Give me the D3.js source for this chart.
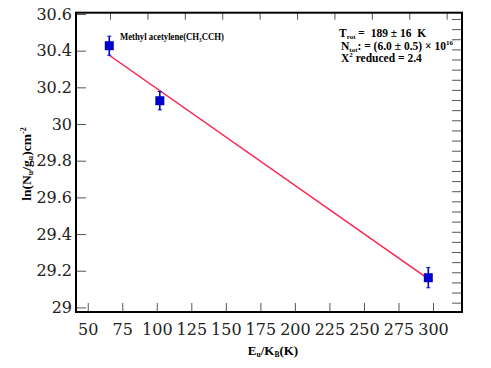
<!DOCTYPE html>
<html>
<head>
<meta charset="utf-8">
<script src="https://cdn.jsdelivr.net/npm/d3@7"></script>
<style>
  body { margin: 0; background: #fff; }
  svg text { font-family: "DejaVu Serif", serif; }
  .lbl { font-family: "Liberation Serif", serif; font-weight: bold; }
</style>
</head>
<body>
<div id="chart"></div>
<script>
// data
const energies = [65.6, 102.2, 296.6];          // Eu/kB (K)
const lnValues = [30.427, 30.127, 29.162];      // ln(Nu/gu)
const errors = [0.052, 0.05, 0.055];
const fitX = [65.6, 296.6];
const fitY = [30.375, 29.155];
const xTicks = [50, 75, 100, 125, 150, 175, 200, 225, 250, 275, 300];
const yTicks = [29, 29.2, 29.4, 29.6, 29.8, 30, 30.2, 30.4, 30.6];
const topTicks = d3.range(1, 11);
const rightTicks = d3.range(1, 30);

const width = 491, height = 368;
const frame = { left: 76, right: 462, top: 12.7, bottom: 312 };

const svg = d3.select('#chart').append('svg')
  .attr('width', width)
  .attr('height', height);

const x = d3.scaleLinear().domain([41.5, 321]).range([frame.left, frame.right]);
const y = d3.scaleLinear().domain([28.975, 30.607]).range([frame.bottom, frame.top]);
const xTop = d3.scaleLinear().domain([0.091, 10.41]).range([frame.left, frame.right]);
const yRight = d3.scaleLinear().domain([0.08, 29.62]).range([frame.bottom, frame.top]);

// bottom axis, ticks pointing inward
const axBottom = svg.append('g')
  .attr('transform', `translate(0,${frame.bottom})`)
  .call(d3.axisBottom(x).tickValues(xTicks).tickSize(-9).tickPadding(12).tickFormat(d3.format('d')));
axBottom.selectAll('line').attr('stroke', '#555');
axBottom.selectAll('text').attr('font-size', 16).attr('fill', '#222');

const axLeft = svg.append('g')
  .attr('transform', `translate(${frame.left},0)`)
  .call(d3.axisLeft(y).tickValues(yTicks).tickSize(-10).tickPadding(4).tickFormat(d => String(+d.toFixed(1))));
axLeft.selectAll('line').attr('stroke', '#555');
axLeft.selectAll('text').attr('font-size', 16).attr('fill', '#222');

const axTop = svg.append('g')
  .attr('transform', `translate(0,${frame.top})`)
  .call(d3.axisTop(xTop).tickValues(topTicks).tickSize(-7).tickFormat(''));
axTop.selectAll('line').attr('stroke', '#555');

const axRight = svg.append('g')
  .attr('transform', `translate(${frame.right},0)`)
  .call(d3.axisRight(yRight).tickValues(rightTicks).tickSize(-10).tickFormat(''));
axRight.selectAll('line').attr('stroke', '#555');

svg.selectAll('.domain').remove();

// frame
svg.append('rect')
  .attr('x', frame.left).attr('y', frame.top)
  .attr('width', frame.right - frame.left)
  .attr('height', frame.bottom - frame.top)
  .attr('fill', 'none')
  .attr('stroke', '#000')
  .attr('stroke-width', 2);

// fit line
svg.append('path')
  .datum(d3.zip(fitX, fitY))
  .attr('fill', 'none')
  .attr('stroke', '#ff1f4f')
  .attr('stroke-width', 1.5)
  .attr('d', d3.line().x(d => x(d[0])).y(d => y(d[1])));

// points with error bars
const pts = energies.map((e, i) => ({ e, v: lnValues[i], err: errors[i] }));
const pg = svg.append('g').selectAll('g').data(pts).enter().append('g');

pg.append('line')
  .attr('x1', d => x(d.e)).attr('x2', d => x(d.e))
  .attr('y1', d => y(d.v + d.err)).attr('y2', d => y(d.v - d.err))
  .attr('stroke', '#0000cc').attr('stroke-width', 1.6);
pg.append('line')
  .attr('x1', d => x(d.e) - 2).attr('x2', d => x(d.e) + 2)
  .attr('y1', d => y(d.v + d.err)).attr('y2', d => y(d.v + d.err))
  .attr('stroke', '#0000cc').attr('stroke-width', 1);
pg.append('line')
  .attr('x1', d => x(d.e) - 2).attr('x2', d => x(d.e) + 2)
  .attr('y1', d => y(d.v - d.err)).attr('y2', d => y(d.v - d.err))
  .attr('stroke', '#0000cc').attr('stroke-width', 1);
pg.append('rect')
  .attr('x', d => x(d.e) - 4.5).attr('y', d => y(d.v) - 4.5)
  .attr('width', 9).attr('height', 9)
  .attr('fill', '#0000cc');

// annotations
const mol = svg.append('text').attr('class', 'lbl')
  .attr('x', 120).attr('y', 40).attr('font-size', 10)
  .attr('textLength', 104).attr('lengthAdjust', 'spacingAndGlyphs');
mol.append('tspan').text('Methyl acetylene(CH');
mol.append('tspan').attr('font-size', 6).attr('dy', 2).text('3');
mol.append('tspan').attr('dy', -2).text('CCH)');

const t1 = svg.append('text').attr('class', 'lbl').attr('x', 339).attr('y', 37).attr('font-size', 11.5);
t1.append('tspan').text('T');
t1.append('tspan').attr('font-size', 7).attr('dy', 2).text('rot');
t1.append('tspan').attr('dy', -2).attr('xml:space', 'preserve').text(' =  189 \u00b1 16  K');

const t2 = svg.append('text').attr('class', 'lbl').attr('x', 341).attr('y', 50).attr('font-size', 11.5);
t2.append('tspan').text('N');
t2.append('tspan').attr('font-size', 7).attr('dy', 2).text('tot');
t2.append('tspan').attr('dy', -2).text(': = (6.0 \u00b1 0.5) \u00d7 10');
t2.append('tspan').attr('font-size', 7).attr('dy', -5).text('16');

const t3 = svg.append('text').attr('class', 'lbl').attr('x', 341).attr('y', 62).attr('font-size', 11.5);
t3.append('tspan').text('X');
t3.append('tspan').attr('font-size', 7).attr('dy', -5).text('2');
t3.append('tspan').attr('dy', 5).text(' reduced = 2.4');

// axis titles
const xl = svg.append('text').attr('class', 'lbl')
  .attr('x', 273).attr('y', 355).attr('text-anchor', 'middle').attr('font-size', 13);
xl.append('tspan').text('E');
xl.append('tspan').attr('font-size', 7.5).attr('dy', 2).text('u');
xl.append('tspan').attr('dy', -2).text('/K');
xl.append('tspan').attr('font-size', 7.5).attr('dy', 2).text('B');
xl.append('tspan').attr('dy', -2).text('(K)');

const yl = svg.append('text').attr('class', 'lbl')
  .attr('transform', 'translate(31,164) rotate(-90)')
  .attr('text-anchor', 'middle').attr('font-size', 13.5);
yl.append('tspan').text('ln(N');
yl.append('tspan').attr('font-size', 8).attr('dy', 2).text('u');
yl.append('tspan').attr('dy', -2).text('/g');
yl.append('tspan').attr('font-size', 8).attr('dy', 2).text('u');
yl.append('tspan').attr('dy', -2).text(')cm');
yl.append('tspan').attr('font-size', 8).attr('dy', -5).text('-2');
</script>
</body>
</html>
